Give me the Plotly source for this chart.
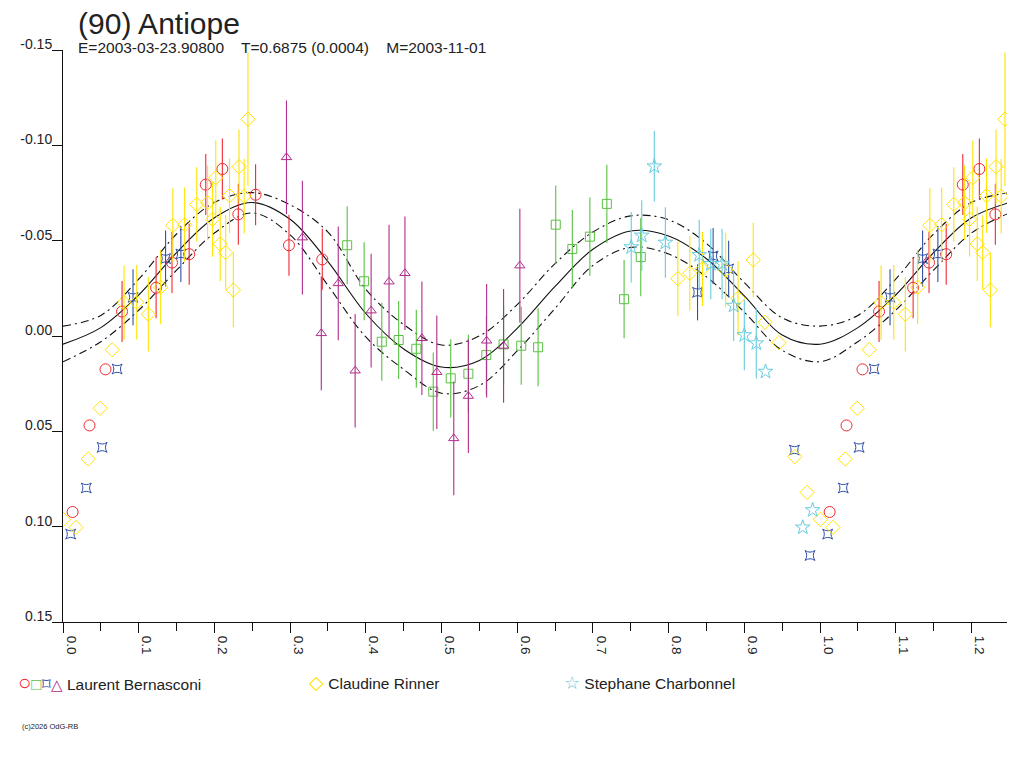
import plotly.graph_objects as go

# fitted lightcurve, phase 0 -> 1.25 in 0.05 steps
fit_phase = [0.00, 0.05, 0.10, 0.15, 0.20, 0.25, 0.30, 0.35, 0.40, 0.45, 0.50, 0.55, 0.60,
             0.65, 0.70, 0.75, 0.80, 0.85, 0.90, 0.95, 1.00, 1.05, 1.10, 1.15, 1.20, 1.25]
fit_mag = [0.0043, -0.0044, -0.0215, -0.0437, -0.0620, -0.0700, -0.0612, -0.0390, -0.0118,
           0.0068, 0.0163, 0.0128, -0.0040, -0.0260, -0.0455, -0.0551, -0.0525, -0.0405,
           -0.0210, -0.0005, 0.0043, -0.0044, -0.0215, -0.0437, -0.0620, -0.0700]
fit_upper = [-0.0052, -0.0108, -0.0298, -0.0535, -0.0700, -0.0752, -0.0688, -0.0545, -0.0245,
             -0.0060, 0.0047, 0.0000, -0.0165, -0.0380, -0.0545, -0.0630, -0.0610, -0.0485,
             -0.0280, -0.0095, -0.0052, -0.0108, -0.0298, -0.0535, -0.0700, -0.0752]
fit_lower = [0.0135, 0.0030, -0.0135, -0.0345, -0.0540, -0.0645, -0.0530, -0.0265, 0.0005,
             0.0175, 0.0300, 0.0260, 0.0078, -0.0145, -0.0370, -0.0465, -0.0430, -0.0310,
             -0.0125, 0.0075, 0.0135, 0.0030, -0.0135, -0.0345, -0.0540, -0.0645]

# Laurent Bernasconi sessions
red_phase = [0.0127, 0.0350, 0.0561, 0.0780, 0.1230, 0.1440, 0.1667, 0.1886, 0.2105,
             0.2316, 0.2544, 0.2985, 0.3425]
red_mag = [0.0923, 0.0469, 0.0175, -0.0128, -0.0253, -0.0385, -0.0429, -0.0794, -0.0876,
           -0.0638, -0.0741, -0.0476, -0.0402]
red_err = [0, 0, 0, 0.016, 0.016, 0.016, 0.016, 0.016, 0.016, 0.016, 0.016, 0.016, 0.016]

green_phase = [0.3754, 0.3978, 0.4211, 0.4434, 0.4667, 0.4891, 0.5122, 0.5355, 0.5592,
               0.5820, 0.6053, 0.6276, 0.6509, 0.6728, 0.6960, 0.7184, 0.7412, 0.7632]
green_mag = [-0.0476, -0.0287, 0.0030, 0.0021, 0.0067, 0.0292, 0.0222, 0.0198, 0.0100,
             0.0044, 0.0051, 0.0059, -0.0584, -0.0456, -0.0521, -0.0693, -0.0193, -0.0414]
green_err = [0.0205] * 18

blue_phase = [0.0101, 0.0307, 0.0517, 0.0715, 0.0925, 0.1355, 0.1557, 0.8382, 0.8588,
              0.8793, 0.9662, 0.9868]
blue_mag = [0.1039, 0.0797, 0.0584, 0.0173, -0.0203, -0.0406, -0.0430, -0.0229, -0.0420,
            -0.0352, 0.0598, 0.1151]
blue_err = [0, 0, 0, 0, 0.0147, 0.0147, 0.0147, 0.0147, 0.0147, 0.0147, 0, 0]

purple_phase = [0.2952, 0.3162, 0.3412, 0.3636, 0.3859, 0.4070, 0.4307, 0.4517, 0.4741,
                0.4938, 0.5162, 0.5355, 0.5596, 0.5820, 0.6035]
purple_mag = [-0.0937, -0.0516, -0.0014, -0.0276, 0.0182, -0.0133, -0.0285, -0.0329, 0.0012,
              0.0190, 0.0537, 0.0315, 0.0025, 0.0052, -0.0369]
purple_err = [0.0298] * 15

# Claudine Rinner
yellow_phase = [0.0005, 0.0171, 0.0333, 0.0491, 0.0650, 0.0807, 0.0974, 0.1127, 0.1290,
                0.1451, 0.1607, 0.1767, 0.1910, 0.1976, 0.2018, 0.2077, 0.2149, 0.2200,
                0.2250, 0.2325, 0.2393, 0.2443, 0.8122, 0.8280, 0.8447, 0.8754, 0.8917,
                0.9118, 0.9272, 0.9457, 0.9667, 0.9829]
yellow_mag = [0.0962, 0.1004, 0.0645, 0.0379, 0.0072, -0.0175, -0.0177, -0.0114, -0.0256,
              -0.0580, -0.0584, -0.0690, -0.0699, -0.0612, -0.0830, -0.0483, -0.0438, -0.0736,
              -0.0241, -0.0888, -0.0733, -0.1137, -0.0301, -0.0329, -0.0352, -0.0346, -0.0198,
              -0.0399, -0.0072, 0.0035, 0.0633, 0.0820]
yellow_err = [0, 0, 0, 0, 0, 0.0195, 0.0195, 0.0195, 0.0195, 0.0195, 0.0195, 0.0195, 0.0195,
              0.0195, 0.0195, 0.0195, 0.0195, 0.0195, 0.0195, 0.0195, 0.0195, 0.035, 0.0195,
              0.0195, 0.0195, 0.0195, 0.0195, 0.0195, 0, 0, 0, 0]

# Stephane Charbonnel
cyan_phase = [0.7506, 0.7645, 0.7811, 0.7957, 0.8404, 0.8557, 0.8706, 0.8859, 0.9000,
              0.9158, 0.9280, 0.9772, 0.9903]
cyan_mag = [-0.0466, -0.0527, -0.0890, -0.0490, -0.0425, -0.0378, -0.0378, -0.0159, -0.0005,
            0.0038, 0.0187, 0.1004, 0.0913]
cyan_err = [0.0185] * 10 + [0, 0, 0]

x_ticks = [0.0, 0.1, 0.2, 0.3, 0.4, 0.5, 0.6, 0.7, 0.8, 0.9, 1.0, 1.1, 1.2]
x_minor = [0.05, 0.15, 0.25, 0.35, 0.45, 0.55, 0.65, 0.75, 0.85, 0.95, 1.05, 1.15]
y_ticks = [-0.15, -0.10, -0.05, 0.0, 0.05, 0.10, 0.15]
y_labels = ["-0.15", "-0.10", "-0.05", "0.00", "0.05", "0.10", "0.15"]

FONT = "Liberation Sans, Arial, sans-serif"
INK = "#222222"


def fold(phase, mag, err):
    # phases below 0.25 are shown a second time one cycle later
    xs, ys, es = list(phase), list(mag), list(err)
    for p, m, e in zip(phase, mag, err):
        if p < 0.25:
            xs.append(p + 1)
            ys.append(m)
            es.append(e)
    return xs, ys, es


fig = go.Figure()

for ys, dash in [(fit_upper, "8px,4px,2px,4px"), (fit_lower, "8px,4px,2px,4px"), (fit_mag, "solid")]:
    fig.add_trace(go.Scatter(x=fit_phase, y=ys, mode="lines",
                             line=dict(color="#111111", width=1.1, dash=dash, shape="spline"),
                             showlegend=False, hoverinfo="skip"))

series = [
    (red_phase, red_mag, red_err, "#F02830", "circle-open", 11),
    (green_phase, green_mag, green_err, "#58C040", "square-open", 9),
    (blue_phase, blue_mag, blue_err, "#3050A8", "star-square-open", 9),
    (purple_phase, purple_mag, purple_err, "#B02C8C", "triangle-up-open", 9),
    (yellow_phase, yellow_mag, yellow_err, "#FFE400", "diamond-open", 11),
    (cyan_phase, cyan_mag, cyan_err, "#66CCDD", "star-open", 11),
]

for ph, mg, er, color, symbol, size in series:
    xs, ys, es = fold(ph, mg, er)
    fig.add_trace(go.Scatter(
        x=xs, y=ys, mode="markers",
        marker=dict(symbol=symbol, size=size, color=color, line=dict(color=color, width=1)),
        error_y=dict(type="data", array=es, color=color, thickness=1.1, width=0),
        showlegend=False,
    ))

fig.update_xaxes(range=[0, 1.247], showgrid=False, zeroline=False,
                 showline=True, linecolor="#111111", linewidth=1,
                 tickvals=x_ticks, ticktext=["%.1f" % v for v in x_ticks],
                 ticks="outside", ticklen=10, tickcolor="#111111", tickangle=90,
                 ticklabelshift=8,
                 tickfont=dict(family=FONT, size=13.5, color=INK),
                 minor=dict(tickvals=x_minor, ticks="outside", ticklen=8, tickcolor="#111111"))
fig.update_yaxes(range=[0.15, -0.15], showgrid=False, zeroline=False,
                 showline=True, linecolor="#111111", linewidth=1,
                 tickvals=y_ticks, ticktext=y_labels,
                 ticks="outside", ticklen=10, tickcolor="#111111",
                 ticklabelshift=6, ticklabelstandoff=-3,
                 tickfont=dict(family=FONT, size=14, color=INK))


def sym(char, color, size):
    return "<span style='color:%s;font-size:%dpx'>%s</span>" % (color, size, char)


legend_items = [
    (-0.050, sym("○", "#F02830", 22) + sym("□", "#58C040", 17) + sym("⌑", "#3050A8", 17)
     + sym("△", "#B02C8C", 15) + " Laurent Bernasconi"),
    (0.258, sym("◇", "#FFE400", 19) + " Claudine Rinner"),
    (0.529, sym("☆", "#66CCDD", 18) + " Stephane Charbonnel"),
]
annotations = [
    dict(text="E=2003-03-23.90800    T=0.6875 (0.0004)    M=2003-11-01",
         x=0.0137, y=1.0035, xref="paper", yref="paper", xanchor="left", yanchor="middle",
         showarrow=False, font=dict(family=FONT, size=15.5, color=INK)),
    dict(text="(c)2026 OdG-RB", x=-0.046, y=-0.183, xref="paper", yref="paper",
         xanchor="left", yanchor="middle", showarrow=False,
         font=dict(family=FONT, size=7.5, color=INK)),
]
for xp, txt in legend_items:
    annotations.append(dict(text=txt, x=xp, y=-0.1066, xref="paper", yref="paper",
                            xanchor="left", yanchor="middle", showarrow=False,
                            font=dict(family=FONT, size=15.5, color=INK)))

# the page body adds an 8px offset, so the figure is 8px smaller on each axis
fig.update_layout(
    width=1016, height=760,
    margin=dict(l=51, r=17, t=42, b=146),
    paper_bgcolor="white", plot_bgcolor="white",
    title=dict(text="(90) Antiope", x=0.069, xanchor="left", y=0.994, yanchor="top",
               font=dict(family=FONT, size=30, color=INK)),
    annotations=annotations,
    showlegend=False,
)

fig.write_html("out.html")
